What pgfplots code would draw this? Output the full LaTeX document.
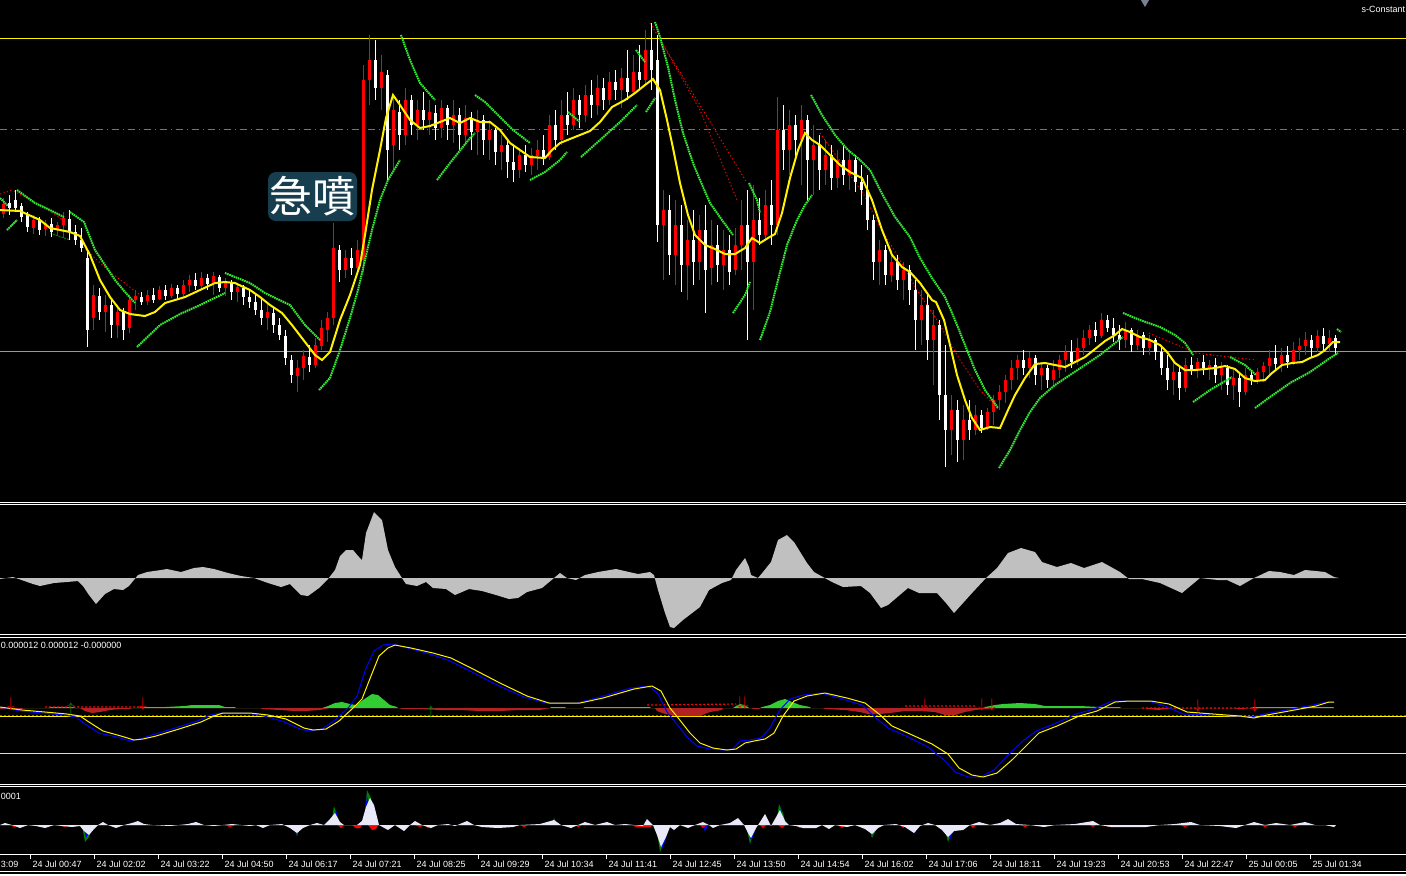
\documentclass[border=0pt]{standalone}
\usepackage{pgfplots}
\pgfplotsset{compat=1.18}
\usepackage{pgfplotstable}
\usepackage{fontspec}
\setmainfont{Liberation Sans}
\newfontfamily\cjk{Noto Sans CJK TC}
\definecolor{oscgray}{RGB}{192,192,192}
\definecolor{lvlgray}{RGB}{150,150,165}
\definecolor{dashg}{RGB}{70,150,70}
\definecolor{sarg}{RGB}{50,235,50}
\definecolor{histg}{RGB}{50,205,50}
\definecolor{histr}{RGB}{178,34,34}
\definecolor{lav}{RGB}{232,232,248}
\definecolor{glow}{RGB}{22,62,78}
\definecolor{dgreen}{RGB}{0,128,0}
\definecolor{macdblue}{RGB}{0,0,255}
\definecolor{diam}{RGB}{120,130,145}
\definecolor{zdash}{RGB}{40,140,40}

\pgfplotsset{panel/.style={scale only axis, width=703pt, xmin=0, xmax=1406, hide axis, anchor=north west}}

% up bars (price rising) -- drawn red
\pgfplotstableread{
x h l o c
3 198 218 214 204
33 215 234 228 220
45 220 236 229 223
57 222 236 230 225
63 212 238 225 218
93 285 330 318 295
105 295 332 312 305
117 305 338 325 312
129 295 333 328 300
135 290 310 300 296
147 290 305 301 295
159 286 300 299 290
171 284 298 296 288
183 280 297 294 285
189 275 292 285 280
201 272 288 286 278
213 272 295 284 276
225 278 296 288 282
237 283 302 292 287
267 303 330 318 312
297 360 392 376 368
303 350 380 368 356
315 338 368 365 345
321 320 350 346 328
327 312 342 330 318
333 223 325 318 248
345 250 278 270 258
357 240 272 268 250
363 65 272 260 80
369 35 105 80 60
381 55 110 88 72
393 95 170 145 110
405 88 145 135 100
417 100 140 125 110
429 100 135 120 112
441 100 138 128 108
453 100 143 125 115
465 105 145 135 118
477 110 155 132 120
489 120 160 140 130
501 135 170 152 145
519 148 178 170 155
531 148 175 165 155
537 140 170 156 150
549 115 160 157 125
561 100 145 140 115
573 88 130 125 100
585 85 122 115 95
597 75 115 105 88
609 72 105 100 82
621 68 108 90 78
633 55 95 92 72
645 30 85 80 50
663 190 280 225 210
675 200 285 255 225
687 220 300 265 240
699 215 280 262 230
711 220 285 268 245
723 230 290 265 250
735 228 275 270 245
741 200 270 245 225
753 185 310 262 220
765 190 240 235 205
777 97 235 225 130
789 110 175 150 125
801 105 185 140 120
813 125 195 160 145
825 140 185 170 155
837 150 188 178 160
849 150 190 175 160
879 240 285 262 250
891 250 282 275 262
903 262 300 280 270
921 290 345 320 305
933 310 385 340 325
951 395 455 430 410
963 405 460 440 420
975 405 435 430 415
987 408 430 428 412
993 395 425 412 400
999 385 410 400 392
1005 375 403 392 380
1011 360 390 380 368
1017 355 380 368 360
1029 352 378 368 358
1041 362 390 375 368
1053 360 385 380 370
1059 355 378 370 360
1065 345 372 360 352
1077 338 365 362 348
1083 330 355 348 338
1089 325 345 338 330
1101 313 338 336 320
1125 322 348 340 330
1137 330 350 345 335
1149 335 355 348 340
1173 360 395 380 372
1185 358 392 388 365
1197 358 378 370 362
1209 360 380 368 365
1221 362 390 375 368
1233 370 400 385 378
1245 368 395 392 375
1257 368 384 380 372
1263 362 382 372 366
1269 350 375 366 358
1281 348 372 364 355
1293 342 365 362 350
1299 338 360 350 346
1305 332 355 346 340
1317 330 352 348 336
1329 330 352 344 338
}\up

% down bars (price falling) -- drawn white
\pgfplotstableread{
x h l o c
9 195 215 203 208
15 190 212 200 208
21 203 222 206 217
27 212 232 215 227
39 217 235 220 230
51 218 237 224 232
69 210 240 219 232
75 225 245 232 240
81 228 252 240 248
87 250 347 258 330
99 288 320 296 312
111 300 338 305 325
123 308 340 312 330
141 292 305 297 302
153 288 303 295 300
165 285 300 290 296
177 285 300 288 294
195 273 290 280 286
207 274 290 278 284
219 275 292 277 288
231 280 300 283 292
243 285 305 288 297
249 290 308 297 302
255 293 315 302 310
261 298 325 310 318
273 308 333 313 325
279 318 340 325 335
285 330 365 336 358
291 355 383 360 375
309 345 372 357 365
339 245 282 250 270
351 248 275 258 268
375 40 100 60 88
387 70 180 75 150
399 100 150 112 135
411 95 135 100 125
423 92 130 110 120
435 105 140 113 128
447 105 140 108 125
459 108 150 115 135
471 112 150 118 132
483 115 155 120 140
495 128 165 130 152
507 140 178 145 162
513 145 182 162 170
525 145 172 155 165
543 135 165 150 158
555 110 150 125 140
567 92 135 115 125
579 95 128 100 115
591 80 118 95 105
603 78 110 88 100
615 70 100 82 90
627 50 100 78 92
639 45 90 72 80
651 23 90 50 70
657 35 242 60 225
669 195 275 210 255
681 205 292 225 265
693 210 285 240 262
705 205 313 230 270
717 225 282 245 265
729 235 285 250 272
747 190 340 225 262
759 198 245 220 235
771 180 245 205 225
783 105 170 130 150
795 115 160 125 140
807 115 200 120 160
819 135 190 145 170
831 145 190 155 178
843 145 185 160 175
855 155 192 160 182
861 165 205 182 190
867 175 230 190 220
873 215 280 220 262
885 245 285 250 275
897 255 290 262 280
909 265 305 270 290
915 280 350 290 320
927 295 360 305 340
939 320 420 325 395
945 345 467 395 430
957 400 462 410 440
969 400 440 420 430
981 410 433 415 428
1023 350 375 360 368
1035 355 385 358 375
1047 365 388 368 380
1071 340 368 352 362
1095 322 342 330 336
1107 315 332 320 328
1113 318 342 328 335
1119 325 350 335 340
1131 328 352 330 345
1143 332 355 335 348
1155 338 360 340 352
1161 345 375 352 368
1167 355 390 368 380
1179 365 400 372 388
1191 357 375 365 370
1203 355 375 362 368
1215 358 383 365 375
1227 365 395 368 385
1239 372 407 378 392
1251 370 385 375 380
1275 345 370 358 364
1287 346 368 355 362
1311 335 358 340 348
1323 328 350 336 344
1335 335 355 338 348
}\dn

\begin{document}
\begin{tikzpicture}
\path[use as bounding box] (0pt,0pt) rectangle (703pt,-437.5pt);
\clip (0pt,0pt) rectangle (703pt,-437.5pt);
\fill[black] (0pt,0pt) rectangle (703pt,-437.5pt);

% ---------------- main price window ----------------
\begin{axis}[panel, at={(0pt,0pt)}, height=251pt, ymin=0, ymax=502, y dir=reverse]
\addplot[yellow, line width=0.5pt] coordinates {(0,38.5)(1406,38.5)};
\addplot[dashg, line width=0.5pt, dash pattern=on 3.5pt off 2pt on 0.5pt off 2pt] coordinates {(0,129)(1406,129)};
\addplot[lvlgray, line width=0.5pt] coordinates {(0,351)(1406,351)};
% red dotted trend lines
\addplot[red, line width=0.5pt, dash pattern=on 0.6pt off 1.2pt, unbounded coords=jump] coordinates {
(0,194)(13,190)(13,nan)
(14,191)(43,207)(66,222)(66,nan)
(83,247)(110,272)(143,297)(143,nan)
(650,23)(700,105)(747,183)(747,nan)
(662,43)(700,110)(737,200)(737,nan)
(820,133)(863,193)(880,227)(900,260)(917,290)(937,320)(960,360)(980,390)(999,410)(999,nan)
(1149,333)(1196,353)(1256,360)
};
\addplot[dgreen, line width=0.5pt, dash pattern=on 1pt off 0.5pt] coordinates {(50,233)(70,240)};
% candles: wicks and bodies
\addplot[white, line width=0.5pt, quiver={u=0, v=\thisrow{l}-\thisrow{h}}] table[x=x, y=h] {\dn};
\addplot[white, line width=1.5pt, quiver={u=0, v=\thisrow{c}-\thisrow{o}}] table[x=x, y=o] {\dn};
\addplot[red, line width=0.5pt, quiver={u=0, v=\thisrow{l}-\thisrow{h}}] table[x=x, y=h] {\up};
\addplot[red, line width=1.5pt, quiver={u=0, v=\thisrow{c}-\thisrow{o}}] table[x=x, y=o] {\up};
% parabolic SAR
\addplot[sarg, line width=1pt, dash pattern=on 0.8pt off 0.35pt, unbounded coords=jump] coordinates {
(0,198)(8,206)(8,nan)
(7,230)(17,220)(17,nan)
(17,190)(35,203)(50,210)(64,217)(64,nan)
(70,212)(84,222)(95,250)(105,265)(115,280)(125,292)(135,303)(135,nan)
(137,347)(160,325)(180,314)(200,305)(225,293)(225,nan)
(225,273)(250,283)(265,293)(290,305)(305,325)(320,340)(320,nan)
(319,390)(330,378)(340,350)(350,318)(358,290)(365,260)(372,230)(380,200)(388,180)(400,160)(400,nan)
(401,35)(410,60)(420,83)(435,100)(435,nan)
(437,180)(450,163)(470,138)(475,133)(475,nan)
(475,95)(485,102)(500,117)(513,130)(530,143)(530,nan)
(530,180)(545,172)(560,160)(567,152)(567,nan)
(568,112)(580,122)(580,nan)
(581,157)(600,140)(620,122)(637,105)(637,nan)
(636,50)(645,62)(645,nan)
(646,112)(655,98)(655,nan)
(655,22)(660,37)(668,67)(675,100)(683,133)(693,163)(700,180)(710,203)(722,220)(733,235)(733,nan)
(733,313)(745,295)(750,282)(750,nan)
(749,183)(757,200)(760,213)(760,nan)
(760,340)(770,312)(778,280)(787,245)(797,220)(805,205)(812,195)(812,nan)
(811,95)(822,115)(835,135)(848,150)(860,160)(870,170)(880,190)(895,217)(910,237)(920,258)(932,278)(945,297)(955,320)(965,345)(975,370)(985,390)(998,408)(998,nan)
(999,468)(1010,450)(1020,430)(1030,412)(1040,398)(1055,385)(1070,375)(1085,365)(1100,355)(1115,343)(1123,337)(1123,nan)
(1123,313)(1140,320)(1160,327)(1175,335)(1185,343)(1193,355)(1193,nan)
(1193,402)(1210,390)(1232,377)(1232,nan)
(1230,357)(1245,365)(1256,375)(1256,nan)
(1255,408)(1270,397)(1290,383)(1310,372)(1330,358)(1338,353)(1338,nan)
(1337,329)(1341,332)
};
% moving average
\addplot[yellow, line width=1pt] coordinates {
(0,210)(20,211)(40,220)(50,228)(60,230)(70,232)(80,236)(90,255)(100,280)(110,297)(120,310)(130,314)(145,316)(155,312)(165,303)(175,300)(185,297)(200,290)(215,283)(225,282)(235,283)(250,290)(260,297)(270,305)(282,313)(292,325)(305,342)(315,355)(322,360)(330,352)(340,320)(350,295)(360,265)(365,235)(372,190)(380,150)(386,118)(393,95)(400,105)(410,120)(420,128)(430,126)(440,122)(450,118)(460,123)(470,118)(480,122)(490,122)(500,130)(510,143)(520,150)(530,157)(545,158)(552,150)(560,143)(575,137)(590,131)(600,122)(612,107)(625,100)(635,93)(645,85)(653,79)(660,90)(667,120)(673,148)(680,183)(688,215)(695,235)(705,245)(715,249)(725,254)(735,254)(745,248)(752,238)(760,243)(768,238)(775,234)(782,213)(790,178)(798,150)(805,133)(812,140)(820,145)(830,155)(840,165)(850,172)(862,178)(872,200)(882,230)(892,255)(902,267)(910,272)(920,283)(932,300)(936,302)(944,320)(950,345)(957,375)(965,400)(972,418)(980,430)(990,427)(1000,428)(1008,410)(1015,395)(1025,378)(1035,364)(1045,363)(1055,365)(1065,367)(1075,362)(1085,357)(1095,349)(1105,341)(1115,335)(1122,329)(1130,332)(1140,337)(1150,340)(1160,345)(1167,352)(1175,363)(1185,370)(1195,370)(1205,369)(1215,368)(1225,366)(1235,369)(1245,378)(1255,381)(1265,380)(1272,373)(1282,365)(1292,363)(1302,362)(1310,358)(1318,355)(1325,350)(1333,342)(1340,342)
};
\addplot[only marks, mark=triangle*, mark size=2.6pt, mark options={diam, rotate=180, draw=none}] coordinates {(1145,1)};
\end{axis}

% ---------------- oscillator window ----------------
\begin{axis}[panel, at={(0pt,-252.5pt)}, height=64.5pt, ymin=-56, ymax=73]
\addplot[fill=oscgray, draw=none] coordinates {
(0,-1)(13,1)(33,-6)(40,-8)(54,-5)(67,-4)(78,-3)(83,-8)(89,-17)(96,-26)(105,-16)(114,-11)(123,-12)(129,-8)(138,3)(147,6)(161,8)(167,9)(181,6)(194,10)(203,11)(214,9)(228,5)(241,2)(254,0)(268,-5)(281,-9)(290,-6)(301,-17)(308,-18)(319,-10)(328,-1)(335,8)(340,22)(346,28)(353,28)(359,21)(362,18)(366,45)(374,66)(382,58)(388,28)(395,11)(402,0)(406,-6)(417,-8)(426,-4)(433,-10)(446,-11)(455,-17)(469,-11)(482,-13)(496,-17)(509,-21)(518,-20)(527,-14)(542,-10)(554,0)(560,5)(567,0)(576,-2)(585,3)(598,6)(616,9)(629,6)(638,4)(650,6)(654,3)(658,-12)(665,-35)(670,-49)(674,-50)(683,-42)(700,-29)(709,-12)(722,-5)(731,-2)(736,8)(745,20)(749,11)(751,3)(758,0)(763,6)(771,16)(778,38)(787,43)(794,36)(807,15)(814,6)(823,1)(832,-4)(843,-9)(861,-8)(870,-15)(881,-30)(888,-27)(908,-10)(919,-15)(937,-15)(946,-25)(954,-35)(963,-25)(972,-15)(986,0)(997,10)(1008,25)(1021,30)(1035,26)(1042,16)(1057,11)(1071,15)(1084,10)(1102,16)(1120,6)(1129,-1)(1142,-1)(1160,-5)(1182,-15)(1200,0)(1218,-2)(1227,-2)(1240,-8)(1254,0)(1269,7)(1280,6)(1294,3)(1305,8)(1316,7)(1325,6)(1334,1)(1339,0)
} \closedcycle;
\end{axis}

% ---------------- MACD window ----------------
\begin{axis}[panel, at={(0pt,-318.5pt)}, height=73.5pt, ymin=-76, ymax=71]
\addplot[zdash, line width=0.5pt, dash pattern=on 1pt off 1pt] coordinates {(0,-7)(1406,-7)};
\addplot[yellow, line width=0.5pt] coordinates {(0,-8.8)(1406,-8.8)};
\addplot[yellow, line width=0.5pt] coordinates {(0,-45.3)(1406,-45.3)};
\addplot[fill=histg, draw=none] coordinates {
(0,0)(48,0)(50,1)(74,1)(76,0)(135,0)(145,1)(165,1)(185,2)(192,3)(205,3)(219,3)(225,1)(235,1)(236,0)(322,0)(328,2)(335,5)(342,6)(350,4)(356,3)(360,6)(366,10)(372,14)(378,13)(384,8)(390,3)(397,1)(398,0)(550,0)(551,1)(565,1)(566,0)(583,0)(585,1)(650,1)(651,0)(733,0)(736,2)(740,4)(744,3)(748,1)(749,0)(760,0)(762,1)(770,3)(778,7)(785,9)(792,6)(800,3)(810,1)(811,0)(983,0)(985,1)(995,3)(1003,4)(1020,5)(1035,4)(1045,2)(1080,2)(1100,1)(1120,1)(1121,0)(1252,0)(1253,1)(1333,1)(1334,0)
} \closedcycle;
\addplot[fill=histr, draw=none] coordinates {
(0,0)(1,-1)(22,-1)(23,0)(80,0)(85,-3)(92,-5)(100,-4)(110,-2)(120,-1)(130,-1)(131,0)(261,0)(262,-1)(280,-2)(295,-3)(305,-3)(320,-2)(330,0)(400,0)(402,-1)(420,-1)(440,-2)(460,-2)(480,-3)(500,-3)(520,-2)(540,-2)(550,0)(655,0)(657,-3)(665,-6)(680,-8)(700,-8)(710,-4)(722,-2)(723,0)(752,0)(753,-1)(759,-1)(760,0)(823,0)(825,-1)(845,-2)(860,-4)(868,-6)(880,-6)(890,-5)(905,-3)(920,-3)(935,-4)(945,-7)(955,-7)(965,-4)(975,-2)(985,-1)(998,0)(1145,0)(1148,-1)(1158,-2)(1165,-1)(1175,0)(1235,0)(1237,-1)(1245,-1)(1246,0)(1334,0)
} \closedcycle;
\addplot[red, line width=0.6pt, dash pattern=on 1pt off 1pt, unbounded coords=jump] coordinates {
(45,1)(143,1)(143,nan)(647,3)(736,4)(736,nan)(905,2)(977,2)(977,nan)(1142,0)(1258,0)
};
\addplot[macdblue, line width=0.5pt] coordinates {
(0,1)(20,-3)(42,-5)(64,-7)(76,-9)(85,-16)(99,-25)(117,-29)(130,-33)(140,-31)(152,-27)(175,-20)(197,-13)(210,-7)(220,-5)(248,-5)(264,-8)(282,-13)(300,-21)(309,-23)(322,-21)(335,-12)(349,1)(357,12)(366,40)(374,57)(383,63)(392,64)(408,60)(430,54)(448,48)(470,37)(497,23)(524,11)(546,5)(577,5)(600,11)(631,20)(649,22)(658,14)(667,-4)(676,-15)(687,-29)(697,-38)(710,-41)(724,-42)(733,-41)(740,-33)(750,-32)(761,-30)(770,-20)(779,-3)(790,9)(803,13)(821,15)(843,9)(862,3)(875,-9)(888,-20)(906,-28)(928,-39)(944,-52)(955,-64)(968,-69)(980,-69)(994,-62)(1009,-46)(1024,-32)(1036,-23)(1054,-16)(1076,-6)(1094,-1)(1112,7)(1126,7)(1148,7)(1165,2)(1183,-6)(1210,-7)(1237,-8)(1251,-9)(1264,-6)(1286,-2)(1313,3)(1326,6)(1334,6)
};
\addplot[yellow, line width=0.5pt] coordinates {
(0,1)(22,-2)(45,-4)(67,-6)(80,-8)(89,-14)(103,-23)(121,-28)(134,-32)(143,-31)(156,-28)(179,-21)(201,-14)(214,-8)(223,-5)(250,-5)(268,-7)(286,-11)(304,-20)(313,-22)(326,-21)(339,-13)(353,0)(362,9)(371,32)(379,52)(388,60)(395,63)(411,60)(433,55)(451,50)(473,39)(500,25)(527,12)(549,5)(580,5)(603,10)(634,19)(652,22)(661,17)(670,0)(679,-11)(690,-25)(700,-35)(713,-40)(727,-42)(736,-41)(745,-35)(754,-33)(765,-31)(774,-25)(783,-8)(794,7)(807,12)(825,15)(847,10)(865,5)(879,-6)(892,-18)(910,-26)(932,-36)(948,-46)(959,-60)(972,-67)(983,-69)(997,-65)(1013,-51)(1028,-36)(1039,-25)(1057,-18)(1079,-8)(1097,-3)(1115,6)(1129,7)(1151,7)(1169,4)(1187,-4)(1213,-6)(1240,-8)(1254,-10)(1267,-7)(1289,-3)(1316,2)(1329,6)(1334,6)
};
\addplot[only marks, mark=text, text mark={$\downarrow$}, text mark as node, text mark style={font=\fontsize{7}{7}\selectfont\bfseries, text=red, inner sep=0pt}] coordinates {
(11,4)(143,4)(740,5)(745,5)(925,3)(982,3)(992,3)(1198,2)(1255,2)
};
\addplot[only marks, mark=text, text mark={$\uparrow$}, text mark as node, text mark style={font=\fontsize{7}{7}\selectfont, text=dgreen, inner sep=0pt}] coordinates {
(71,-1)(431,-4)
};
\end{axis}

% ---------------- bottom oscillator window ----------------
\begin{axis}[panel, at={(0pt,-393.5pt)}, height=33.5pt, ymin=-29, ymax=38]
\addplot[fill=dgreen, draw=none] coordinates {
(0,0)(82,0)(85,-17)(89,-12)(92,0)(293,0)(297,-11)(301,0)(331,0)(334,19)(337,10)(339,0)(364,0)(367,35)(371,27)(374,0)(552,0)(554,7)(557,0)(656,0)(660,-27)(664,-18)(667,0)(746,0)(750,-19)(754,-8)(757,0)(776,0)(779,21)(783,12)(786,0)(868,0)(872,-13)(876,-5)(879,0)(944,0)(948,-17)(952,-8)(955,0)(1334,0)
} \closedcycle;
\addplot[fill=macdblue, draw=none] coordinates {
(0,0)(83,0)(86,-13)(90,-6)(93,0)(294,0)(297,-10)(300,0)(333,0)(336,15)(339,0)(363,0)(367,29)(370,16)(372,0)(658,0)(662,-24)(666,-14)(668,0)(703,0)(705,-7)(708,0)(747,0)(751,-16)(755,-6)(757,0)(777,0)(781,17)(784,0)(869,0)(872,-11)(875,0)(912,0)(915,-9)(918,0)(946,0)(950,-15)(954,-4)(956,0)(1334,0)
} \closedcycle;
\addplot[fill=red, draw=none] coordinates {
(0,0)(10,0)(14,-2)(18,0)(60,0)(64,-2)(70,0)(110,0)(114,-2)(118,0)(225,0)(230,-2)(236,0)(338,0)(341,-3)(344,0)(352,0)(356,-3)(360,-3)(362,0)(368,0)(372,-5)(376,-4)(378,0)(415,0)(420,-2)(424,0)(428,-3)(432,0)(520,0)(524,-2)(528,0)(575,0)(578,-2)(582,0)(632,0)(636,-2)(650,-2)(654,0)(700,0)(703,-3)(706,0)(760,0)(763,-3)(766,0)(778,0)(782,-3)(786,0)(797,0)(800,-3)(804,0)(822,0)(826,-2)(830,0)(838,0)(842,-3)(846,0)(900,0)(903,-3)(906,0)(970,0)(973,-3)(976,0)(1020,0)(1025,-2)(1030,0)(1090,0)(1093,-2)(1096,0)(1105,0)(1108,-2)(1112,0)(1180,0)(1185,-2)(1190,0)(1260,0)(1265,-2)(1270,0)(1290,0)(1295,-2)(1300,0)(1334,0)
} \closedcycle;
\addplot[fill=lav, draw=none] coordinates {
(0,0)(5,2)(12,0)(20,-3)(28,0)(36,-1)(45,-3)(54,0)(62,-1)(72,-2)(80,-1)(84,-6)(89,-10)(94,-4)(98,0)(103,3)(108,0)(116,-3)(124,0)(132,2)(138,4)(144,1)(152,0)(170,-1)(188,1)(196,3)(204,0)(214,-1)(232,1)(250,-1)(256,0)(263,-3)(270,0)(282,1)(290,-3)(297,-8)(303,-3)(310,0)(317,2)(324,0)(330,6)(335,12)(340,3)(344,0)(357,0)(362,4)(366,18)(370,27)(374,20)(379,0)(388,-5)(395,0)(404,-6)(410,0)(415,4)(422,0)(431,-3)(438,0)(448,1)(455,-1)(467,4)(474,0)(482,-2)(498,-3)(513,-2)(520,0)(540,1)(554,5)(561,0)(571,-3)(578,0)(585,3)(595,0)(607,3)(615,0)(625,1)(643,-1)(647,6)(653,0)(657,-10)(661,-22)(666,-12)(670,-2)(674,-5)(680,0)(688,-3)(695,0)(703,3)(709,0)(713,-3)(720,0)(730,2)(738,7)(744,0)(748,-8)(751,-13)(756,-3)(760,3)(765,11)(771,-1)(775,6)(780,15)(785,4)(789,0)(796,-1)(803,-3)(816,-3)(822,0)(829,-4)(835,0)(847,-2)(855,0)(865,-4)(872,-9)(878,-3)(884,0)(896,1)(905,-2)(914,-8)(920,-1)(928,2)(935,0)(942,-5)(948,-12)(954,-6)(963,-5)(970,0)(979,3)(990,0)(1000,2)(1008,6)(1016,1)(1030,0)(1044,-2)(1055,0)(1075,1)(1093,4)(1100,0)(1111,-2)(1130,-2)(1146,-2)(1160,0)(1175,1)(1191,3)(1200,0)(1220,-1)(1236,-3)(1245,0)(1254,3)(1265,0)(1276,2)(1290,0)(1305,3)(1315,0)(1325,0)(1334,-2)(1336,0)
} \closedcycle;
\end{axis}

% ---------------- frames, time scale and texts (pixel units) ----------------
\begin{scope}[x=0.5pt, y=-0.5pt]
\foreach \yy in {502.5,504.7,634.5,637,784,786.7,854,871.5,874}
  \draw[white, line width=0.5pt] (0,\yy) -- (1406,\yy);
\foreach \t/\s in {30.5/24 Jul 00:47, 94.5/24 Jul 02:02, 158.5/24 Jul 03:22, 222.5/24 Jul 04:50, 286.5/24 Jul 06:17, 350.5/24 Jul 07:21, 414.5/24 Jul 08:25, 478.5/24 Jul 09:29, 542.5/24 Jul 10:34, 606.5/24 Jul 11:41, 670.5/24 Jul 12:45, 734.5/24 Jul 13:50, 798.5/24 Jul 14:54, 862.5/24 Jul 16:02, 926.5/24 Jul 17:06, 990.5/24 Jul 18:11, 1054.5/24 Jul 19:23, 1118.5/24 Jul 20:53, 1182.5/24 Jul 22:47, 1246.5/25 Jul 00:05, 1310.5/25 Jul 01:34}{
  \draw[white, line width=0.5pt] (\t,854) -- (\t,858.5);
  \node[anchor=west, inner sep=0pt, text=white, font=\fontsize{4.5}{5}\selectfont] at (\t+1.8,864) {\s};
}
\node[anchor=west, inner sep=0pt, text=white, font=\fontsize{4.5}{5}\selectfont] at (0.5,864) {3:09};
\node[anchor=west, inner sep=0pt, text=white, font=\fontsize{4.5}{5}\selectfont] at (0.5,645.5) {0.000012 0.000012 -0.000000};
\node[anchor=west, inner sep=0pt, text=white, font=\fontsize{4.5}{5}\selectfont] at (0.5,796) {0001};
\node[anchor=east, inner sep=0pt, text=white, font=\fontsize{4.5}{5}\selectfont] at (1405.5,9) {s-Constant};
\fill[glow, rounded corners=4pt] (268,172) rectangle (357,221);
\node[text=white, inner sep=0pt, font=\cjk\fontsize{21.5}{22}\selectfont] at (312,196) {急噴};
\end{scope}
\end{tikzpicture}
\end{document}
